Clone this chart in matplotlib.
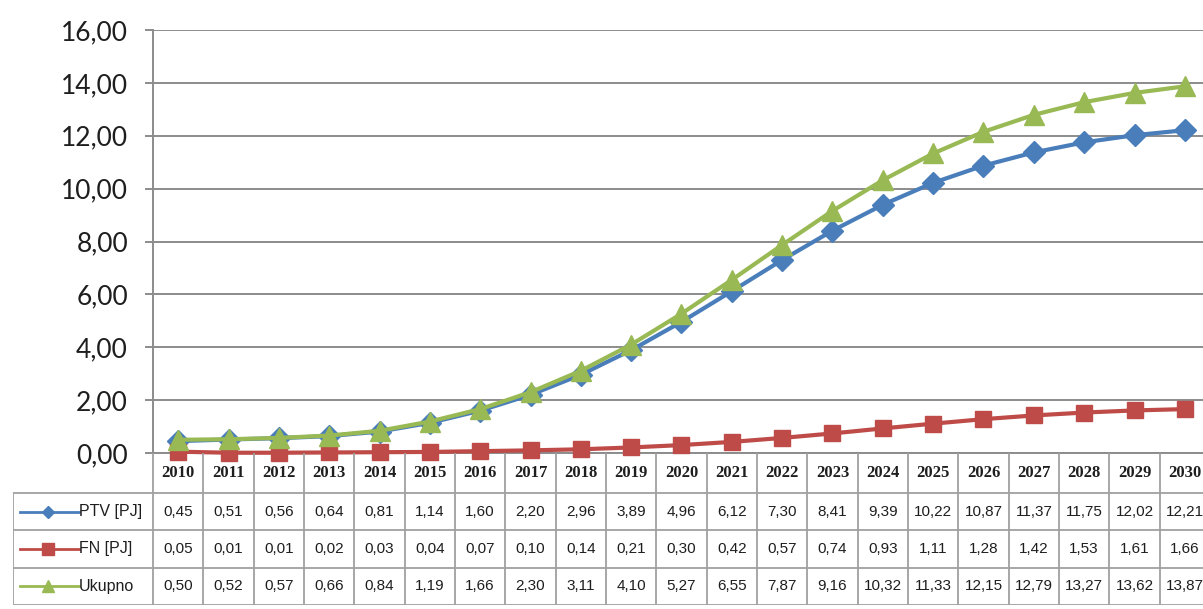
import matplotlib
matplotlib.use("Agg")
import matplotlib.pyplot as plt
from matplotlib.lines import Line2D

years = [str(y) for y in range(2010, 2031)]
ptv = [0.45, 0.51, 0.56, 0.64, 0.81, 1.14, 1.60, 2.20, 2.96, 3.89, 4.96,
       6.12, 7.30, 8.41, 9.39, 10.22, 10.87, 11.37, 11.75, 12.02, 12.21]
fn = [0.05, 0.01, 0.01, 0.02, 0.03, 0.04, 0.07, 0.10, 0.14, 0.21, 0.30,
      0.42, 0.57, 0.74, 0.93, 1.11, 1.28, 1.42, 1.53, 1.61, 1.66]
ukupno = [0.50, 0.52, 0.57, 0.66, 0.84, 1.19, 1.66, 2.30, 3.11, 4.10, 5.27,
          6.55, 7.87, 9.16, 10.32, 11.33, 12.15, 12.79, 13.27, 13.62, 13.87]
series_names = ["PTV [PJ]", "FN [PJ]", "Ukupno"]
y_ticks = [0, 2, 4, 6, 8, 10, 12, 14, 16]

colors = ["#4A7EBB", "#BE4B48", "#98B954"]
markers = ["D", "s", "^"]
msizes = [11, 11, 14]
key_msizes = [6, 9, 8]
grid_col = "#8C8C8C"
border_col = "#A0A0A0"
text_col = "#1E1E1E"

W, H = 1203, 609
fig = plt.figure(figsize=(W / 100, H / 100), dpi=100)
fig.patch.set_facecolor("white")


def fig_box(left, top, right, bottom):
    return [left / W, 1 - bottom / H, (right - left) / W, (bottom - top) / H]


def fmt(v):
    return f"{v:.2f}".replace(".", ",")


# main plot area
ax_left, ax_top, ax_right, ax_bottom = 153, 30, 1210, 453
ax = fig.add_axes(fig_box(ax_left, ax_top, ax_right, ax_bottom))
x = list(range(len(years)))
for vals, c, m, ms in zip([ptv, fn, ukupno], colors, markers, msizes):
    ax.plot(x, vals, color=c, lw=3.0, marker=m, ms=ms, mfc=c, mec=c,
            solid_joinstyle="round", clip_on=False, zorder=3)

ax.set_xlim(-0.5, len(years) - 0.5)
ax.set_ylim(0, 16)
ax.set_yticks(y_ticks)
ax.set_yticklabels([fmt(v) for v in y_ticks], fontsize=19, family="Lato",
                   color=text_col)
ax.set_xticks([])
ax.yaxis.grid(True, color=grid_col, lw=1.4)
ax.set_axisbelow(True)
ax.tick_params(axis="y", length=6, width=1.4, color=grid_col, pad=12)
for side in ["top", "right"]:
    ax.spines[side].set_visible(False)
for side in ["left", "bottom"]:
    ax.spines[side].set_color(grid_col)
    ax.spines[side].set_linewidth(1.4)

# data table below, drawn in pixel units of its own axes
t_left, t_top, t_bottom = 13, ax_bottom, 605
tax = fig.add_axes(fig_box(t_left, t_top, ax_right, t_bottom))
tax.set_xlim(t_left, ax_right)
tax.set_ylim(t_bottom, t_top)
tax.axis("off")

col_w = (ax_right - ax_left) / len(years)
head_h = 40
row_h = (t_bottom - t_top - head_h) / 3
row_tops = [t_top + head_h + row_h * i for i in range(4)]

# borders
lw_b = 1.3
tax.hlines(row_tops, t_left, ax_right, color=border_col, lw=lw_b)
tax.vlines([t_left], row_tops[0], t_bottom, color=border_col, lw=lw_b)
col_edges = [ax_left + col_w * j for j in range(len(years) + 1)]
tax.vlines(col_edges, t_top, t_bottom, color=border_col, lw=lw_b)

for j, yr in enumerate(years):
    tax.text(ax_left + col_w * (j + 0.5), t_top + head_h / 2, yr,
             ha="center", va="center", fontsize=12, weight="bold",
             family="Liberation Serif", color=text_col)

for i, vals in enumerate([ptv, fn, ukupno]):
    yc = row_tops[i] + row_h / 2
    for j, v in enumerate(vals):
        tax.text(ax_left + col_w * (j + 0.5), yc, fmt(v), ha="center",
                 va="center", fontsize=11, family="Liberation Sans",
                 color=text_col)

# legend keys inside the label column
for i, (name, c, m, ms) in enumerate(zip(series_names, colors, markers,
                                         key_msizes)):
    yc = row_tops[i] + row_h / 2
    tax.add_line(Line2D([20, 79], [yc, yc], color=c, lw=2.0))
    tax.add_line(Line2D([48], [yc], color=c, marker=m, ms=ms, mfc=c, mec=c))
    tax.text(79, yc, name, fontsize=11.5, family="Liberation Sans",
             color=text_col, va="center", ha="left")

fig.savefig("out.png", dpi=100, facecolor="white")
